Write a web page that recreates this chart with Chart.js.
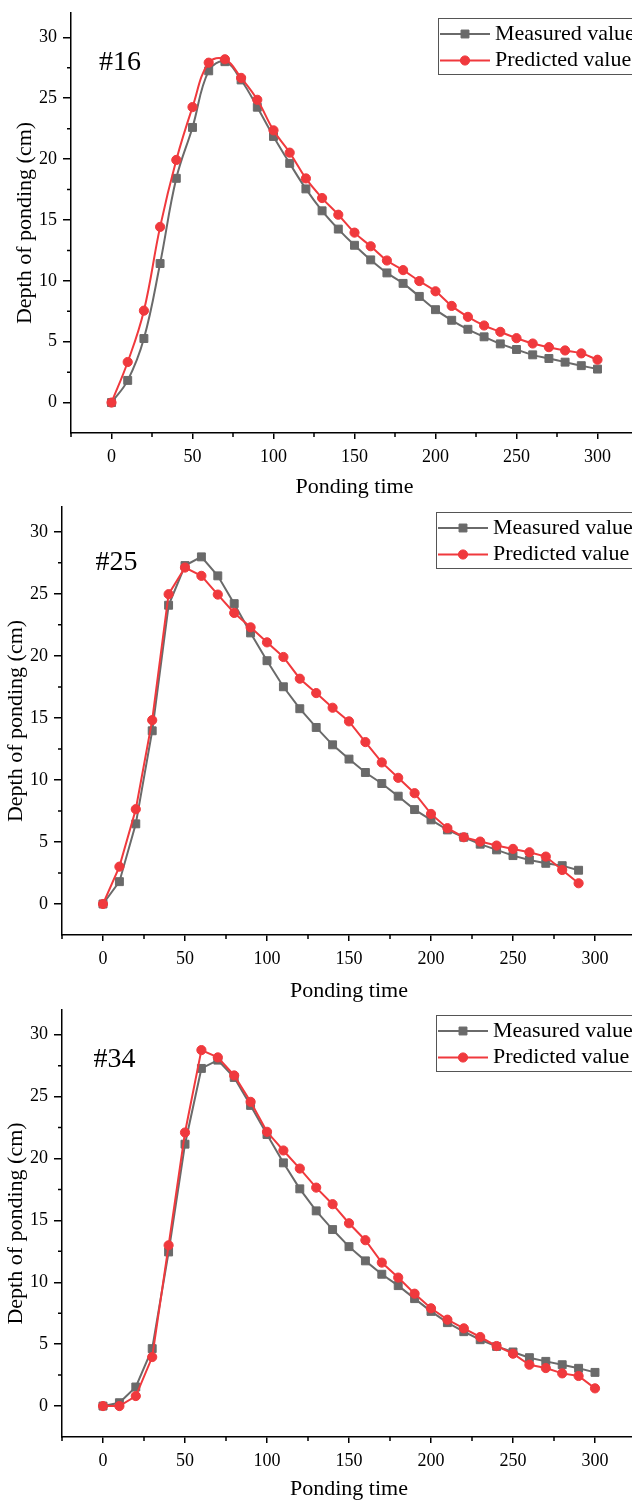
<!DOCTYPE html>
<html>
<head>
<meta charset="utf-8">
<script src="https://cdn.jsdelivr.net/npm/chart.js@4.4.0/dist/chart.umd.min.js"></script>
<style>
  html, body { margin: 0; padding: 0; background: #fff; }
  #page { position: relative; width: 632px; height: 1502px; overflow: hidden; }
  #page canvas { position: absolute; left: 0; }
</style>
</head>
<body>
<div id="page">
  <canvas id="chart16" width="638" height="500" style="top:0px"></canvas>
  <canvas id="chart25" width="636" height="504" style="top:500px"></canvas>
  <canvas id="chart34" width="636" height="502" style="top:1000px"></canvas>
</div>
<script>
// datos
const time300 = [0, 10, 20, 30, 40, 50, 60, 70, 80, 90, 100, 110, 120, 130, 140, 150,
  160, 170, 180, 190, 200, 210, 220, 230, 240, 250, 260, 270, 280, 290, 300];
const time290 = [0, 10, 20, 30, 40, 50, 60, 70, 80, 90, 100, 110, 120, 130, 140, 150,
  160, 170, 180, 190, 200, 210, 220, 230, 240, 250, 260, 270, 280, 290];

const measured16 = [0, 1.82, 5.26, 11.42, 18.42, 22.6, 27.25, 28.0, 26.5, 24.26, 21.86, 19.65,
  17.55, 15.75, 14.25, 12.92, 11.72, 10.65, 9.79, 8.72, 7.63, 6.76, 6.02, 5.4, 4.82, 4.36,
  3.92, 3.62, 3.32, 3.03, 2.75];
const predicted16 = [0, 3.33, 7.55, 14.43, 19.93, 24.27, 27.92, 28.2, 26.67, 24.87, 22.36, 20.53,
  18.41, 16.8, 15.43, 13.96, 12.84, 11.67, 10.88, 9.98, 9.14, 7.94, 7.04, 6.33, 5.81, 5.29,
  4.85, 4.55, 4.28, 4.04, 3.52];

const measured25 = [0, 1.8, 6.46, 13.96, 24.08, 27.28, 27.98, 26.45, 24.21, 21.85, 19.61, 17.51,
  15.74, 14.23, 12.83, 11.68, 10.6, 9.71, 8.69, 7.61, 6.78, 5.97, 5.38, 4.82, 4.36, 3.9,
  3.55, 3.28, 3.09, 2.72];
const predicted25 = [0, 3.01, 7.64, 14.82, 24.97, 27.12, 26.45, 24.94, 23.46, 22.3, 21.09, 19.91,
  18.16, 17.0, 15.82, 14.72, 13.05, 11.41, 10.17, 8.93, 7.26, 6.11, 5.38, 5.03, 4.71, 4.44,
  4.17, 3.82, 2.74, 1.67];

const measured34 = [0, 0.27, 1.54, 4.64, 12.45, 21.16, 27.28, 27.95, 26.55, 24.29, 21.94, 19.65,
  17.55, 15.77, 14.26, 12.88, 11.73, 10.65, 9.73, 8.68, 7.65, 6.74, 6.01, 5.36, 4.82, 4.37,
  3.91, 3.61, 3.34, 3.05, 2.72];
const predicted34 = [0, 0.0, 0.81, 3.96, 12.99, 22.1, 28.76, 28.17, 26.71, 24.58, 22.16, 20.65,
  19.19, 17.65, 16.31, 14.77, 13.4, 11.59, 10.38, 9.08, 7.9, 6.98, 6.28, 5.58, 4.85, 4.23,
  3.34, 3.07, 2.64, 2.43, 1.43];

const seriesNames = ["Measured value", "Predicted value"];
const xTicks = [0, 50, 100, 150, 200, 250, 300];
const yTicks = [0, 5, 10, 15, 20, 25, 30];
const xMinorStep = 25;
const yMinorStep = 2.5;

const SERIF = '"Liberation Serif", "Times New Roman", serif';
const GRAY = "#6a6a6a";
const RED = "#f0393d";

Chart.defaults.color = "#000";
Chart.defaults.font.family = SERIF;

// marcas menores de los ejes
const minorTicks = {
  id: "minorTicks",
  afterDraw(chart) {
    const { ctx } = chart;
    const x = chart.scales.x;
    const y = chart.scales.y;
    ctx.save();
    ctx.strokeStyle = "#000";
    ctx.lineWidth = 1.5;
    ctx.beginPath();
    for (let v = xTicks[0] - xMinorStep; v <= x.max; v += 2 * xMinorStep) {
      const px = x.getPixelForValue(v);
      ctx.moveTo(px, x.top);
      ctx.lineTo(px, x.top + 4);
    }
    for (let v = yTicks[0] + yMinorStep; v <= y.max; v += 2 * yMinorStep) {
      const py = y.getPixelForValue(v);
      ctx.moveTo(y.right, py);
      ctx.lineTo(y.right - 4, py);
    }
    ctx.stroke();
    ctx.restore();
  },
};

// leyenda con recuadro dentro del area
const boxLegend = {
  id: "boxLegend",
  afterDatasetsDraw(chart) {
    const { ctx, chartArea } = chart;
    const left = chartArea.right - 200;
    const top = chartArea.top + 5;
    ctx.save();
    ctx.fillStyle = "#fff";
    ctx.fillRect(left, top, 240, 56);
    ctx.strokeStyle = "#555";
    ctx.lineWidth = 1;
    ctx.strokeRect(left + 0.5, top + 0.5, 240, 56);
    chart.data.datasets.forEach((ds, i) => {
      const cy = top + 16 + i * 26.5;
      ctx.strokeStyle = ds.borderColor;
      ctx.lineWidth = ds.borderWidth;
      ctx.beginPath();
      ctx.moveTo(left + 2, cy);
      ctx.lineTo(left + 52, cy);
      ctx.stroke();
      ctx.fillStyle = ds.pointBackgroundColor;
      ctx.strokeStyle = ds.pointBorderColor;
      ctx.lineWidth = 1;
      Chart.helpers.drawPoint(ctx, { pointStyle: ds.pointStyle, radius: ds.pointRadius, borderWidth: 1, rotation: 0 }, left + 27, cy);
      ctx.fillStyle = "#000";
      ctx.font = "22px " + SERIF;
      ctx.textAlign = "left";
      ctx.textBaseline = "middle";
      ctx.fillText(ds.label, left + 57, cy);
    });
    ctx.restore();
  },
};

// etiqueta de la muestra (#16, #25, #34)
const sampleLabel = {
  id: "sampleLabel",
  afterDraw(chart, args, opts) {
    const { ctx } = chart;
    const x = chart.scales.x;
    const y = chart.scales.y;
    ctx.save();
    ctx.font = "28px " + SERIF;
    ctx.fillStyle = "#000";
    ctx.textAlign = "left";
    ctx.textBaseline = "alphabetic";
    ctx.fillText(opts.text, x.getPixelForValue(opts.x), y.getPixelForValue(opts.y));
    ctx.restore();
  },
};

function toPoints(times, values) {
  return times.map((t, i) => ({ x: t, y: values[i] }));
}

function makeChart(id, times, measured, predicted, cfg) {
  return new Chart(document.getElementById(id), {
    type: "line",
    data: {
      datasets: [
        {
          label: seriesNames[0],
          data: toPoints(times, measured),
          borderColor: GRAY,
          backgroundColor: GRAY,
          borderWidth: 2,
          pointStyle: "rect",
          pointRadius: 5.6,
          pointBackgroundColor: GRAY,
          pointBorderColor: GRAY,
          pointBorderWidth: 1,
          tension: cfg.tension,
          order: 2,
        },
        {
          label: seriesNames[1],
          data: toPoints(times, predicted),
          borderColor: RED,
          backgroundColor: RED,
          borderWidth: 2,
          pointStyle: "circle",
          pointRadius: 4.6,
          pointBackgroundColor: RED,
          pointBorderColor: RED,
          pointBorderWidth: 1,
          tension: cfg.tension,
          order: 1,
        },
      ],
    },
    options: {
      responsive: false,
      animation: false,
      devicePixelRatio: 1,
      events: [],
      layout: { autoPadding: false, padding: { top: cfg.top, left: 0, right: 0, bottom: 0 } },
      plugins: {
        legend: { display: false },
        tooltip: { enabled: false },
        sampleLabel: cfg.label,
      },
      scales: {
        x: {
          type: "linear",
          min: -25,
          max: 325,
          afterBuildTicks: (s) => { s.ticks = xTicks.map((v) => ({ value: v })); },
          afterFit: (s) => { s.height = cfg.xHeight; s.paddingLeft = 0; s.paddingRight = 0; },
          border: { display: true, color: "#000", width: 1.5 },
          grid: { drawOnChartArea: false, drawTicks: true, tickLength: 6, color: "#000", lineWidth: 1.5 },
          ticks: { font: { size: 18 }, padding: 7, maxRotation: 0, autoSkip: false },
          title: { display: true, text: "Ponding time", font: { size: 22 }, padding: { top: 0, bottom: 0 } },
        },
        y: {
          type: "linear",
          min: -2.5,
          max: 32,
          afterBuildTicks: (s) => { s.ticks = yTicks.map((v) => ({ value: v })); },
          afterFit: (s) => { s.width = cfg.yWidth; s.paddingTop = 0; s.paddingBottom = 0; },
          border: { display: true, color: "#000", width: 1.5 },
          grid: { drawOnChartArea: false, drawTicks: true, tickLength: 8, color: "#000", lineWidth: 1.5 },
          ticks: { font: { size: 18 }, padding: 6, autoSkip: false },
          title: { display: true, text: "Depth of ponding (cm)", font: { size: 22 }, padding: { top: cfg.yTitlePad, bottom: 0 } },
        },
      },
    },
    plugins: [minorTicks, boxLegend, sampleLabel],
  });
}

makeChart("chart16", time300, measured16, predicted16, {
  top: 13, xHeight: 67, yWidth: 71, yTitlePad: 12, tension: 0.4,
  label: { text: "#16", x: -7.7, y: 27.3 },
});
makeChart("chart25", time290, measured25, predicted25, {
  top: 7, xHeight: 69, yWidth: 62, yTitlePad: 3, tension: 0,
  label: { text: "#25", x: -4.5, y: 26.9 },
});
makeChart("chart34", time300, measured34, predicted34, {
  top: 10, xHeight: 65, yWidth: 62, yTitlePad: 3, tension: 0,
  label: { text: "#34", x: -5.8, y: 27.4 },
});
</script>
</body>
</html>
